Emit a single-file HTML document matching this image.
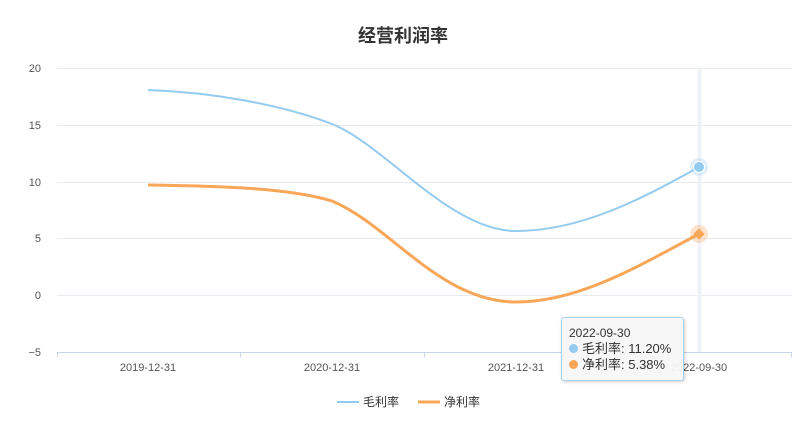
<!DOCTYPE html>
<html><head><meta charset="utf-8"><style>
body{margin:0;background:#fff;width:806px;height:434px;overflow:hidden;font-family:"Liberation Sans","Noto Sans CJK SC",sans-serif}
.tt{position:absolute;left:561px;top:317px;width:123px;height:64px;background:rgba(247,247,247,0.95);border:1px solid #a9d3f3;border-radius:3px;box-shadow:1px 1px 3px rgba(0,0,0,0.2);font-size:12px;color:#333;box-sizing:border-box;padding:8px 0 0 7px;line-height:15px}
.d{display:inline-block;width:9px;height:9px;border-radius:50%;margin-right:4px}
</style></head><body>
<svg width="806" height="434" style="position:absolute;left:0;top:0" font-family="Liberation Sans, Noto Sans CJK SC, sans-serif">
<text x="403" y="42" text-anchor="middle" font-size="18" font-weight="bold" fill="#333">经营利润率</text>
<g stroke="#e8ecf2" stroke-width="1">
<line x1="57" y1="68.5" x2="792" y2="68.5"/><line x1="57" y1="125.5" x2="792" y2="125.5"/><line x1="57" y1="182.5" x2="792" y2="182.5"/><line x1="57" y1="238.5" x2="792" y2="238.5"/><line x1="57" y1="295.5" x2="792" y2="295.5"/>
</g>
<line x1="699.5" y1="68" x2="699.5" y2="352" stroke="#f0f2f9" stroke-width="4"/>
<line x1="57" y1="352.5" x2="792" y2="352.5" stroke="#c8d4e8"/>
<g stroke="#c8d4e8"><line x1="57.5" y1="352" x2="57.5" y2="357"/><line x1="240.5" y1="352" x2="240.5" y2="357"/><line x1="424.5" y1="352" x2="424.5" y2="357"/><line x1="608.5" y1="352" x2="608.5" y2="357"/><line x1="791.5" y1="352" x2="791.5" y2="357"/></g>
<g font-size="11" fill="#555" text-anchor="end">
<text x="41" y="72">20</text><text x="41" y="129">15</text><text x="41" y="186">10</text><text x="41" y="242">5</text><text x="41" y="299">0</text><text x="41" y="356">−5</text>
</g>
<g font-size="11" fill="#555" text-anchor="middle">
<text x="148" y="371">2019-12-31</text><text x="332" y="371">2020-12-31</text><text x="516" y="371">2021-12-31</text><text x="699" y="371">2022-09-30</text>
</g>
<path d="M148,90 C209,92 280,104 332,124 C385,145 450,231 516,231 C580,231 640,200 699,167" fill="none" stroke="#94cbf0" stroke-width="2"/>
<path d="M148,185 C220,186 290,188 332,201 C390,225 440,302 516,302 C580,302 640,265 699,234" fill="none" stroke="#f8a658" stroke-width="3"/>
<circle cx="699" cy="167" r="9" fill="#94cbf0" opacity="0.3"/><circle cx="699" cy="167" r="5.5" fill="#94cbf0" stroke="#fff" stroke-width="1"/>
<circle cx="699" cy="234" r="9" fill="#f8a658" opacity="0.3"/><rect x="695" y="230" width="8" height="8" fill="#f8a658" transform="rotate(45 699 234)"/>
<line x1="337" y1="402" x2="359" y2="402" stroke="#94cbf0" stroke-width="2"/>
<text x="363" y="406" font-size="12" fill="#333">毛利率</text>
<line x1="418" y1="402" x2="440" y2="402" stroke="#f8a658" stroke-width="3"/>
<text x="444" y="406" font-size="12" fill="#333">净利率</text>
</svg>
<div class="tt">2022-09-30<br><span class="d" style="background:#94cbf0"></span><span style="font-size:13px">毛利率: 11.20%</span><br><span class="d" style="background:#f8a658"></span><span style="font-size:13px">净利率: 5.38%</span></div>
</body></html>
